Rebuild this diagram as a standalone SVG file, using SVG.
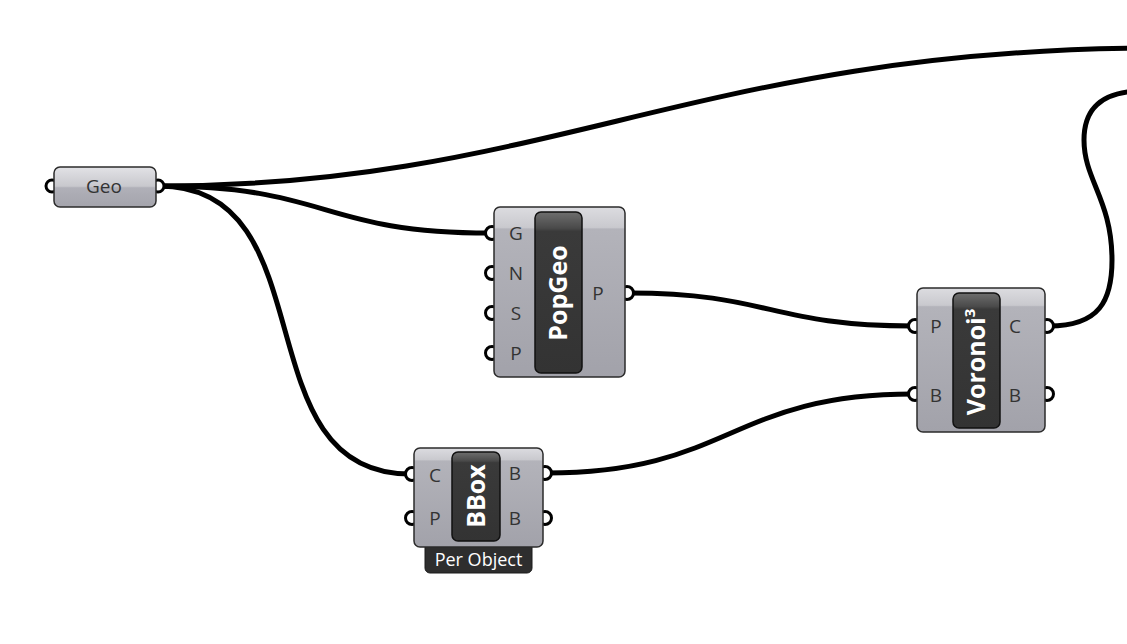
<svg xmlns="http://www.w3.org/2000/svg" width="1127" height="644" viewBox="0 0 1127 644">
  <defs>
    <linearGradient id="bodyGrad" x1="0" y1="0" x2="0" y2="1">
      <stop offset="0" stop-color="#dcdce0"/>
      <stop offset="0.12" stop-color="#c9c9ce"/>
      <stop offset="0.13" stop-color="#b3b3ba"/>
      <stop offset="1" stop-color="#a2a2aa"/>
    </linearGradient>
    <linearGradient id="geoGrad" x1="0" y1="0" x2="0" y2="1">
      <stop offset="0" stop-color="#e2e2e6"/>
      <stop offset="0.48" stop-color="#c8c8cd"/>
      <stop offset="0.52" stop-color="#b0b0b8"/>
      <stop offset="1" stop-color="#a4a4ac"/>
    </linearGradient>
    <linearGradient id="capGrad" x1="0" y1="0" x2="0" y2="1">
      <stop offset="0" stop-color="#6e6e6e"/>
      <stop offset="0.1" stop-color="#4a4a4a"/>
      <stop offset="0.12" stop-color="#3a3a3a"/>
      <stop offset="1" stop-color="#333333"/>
    </linearGradient>
  </defs>
  <style>
    .wire { fill: none; stroke: #000; stroke-width: 5; stroke-linecap: round; }
    .body { stroke: #2b2b2b; stroke-width: 1.5; }
    .cap { fill: url(#capGrad); stroke: #111; stroke-width: 1.5; }
    .grip { fill: #fff; stroke: #000; stroke-width: 3; }
    .lbl { font-family: "Open Sans", "Noto Sans", sans-serif; font-size: 19px; fill: #333; text-anchor: middle; }
    .title { font-family: "Open Sans", "Noto Sans", sans-serif; font-weight: bold; font-size: 25px; fill: #fff; text-anchor: middle; }
    .tab { fill: #2e2e2e; stroke: #1a1a1a; stroke-width: 1; }
    .tabtxt { font-family: "Open Sans", "Noto Sans", sans-serif; font-size: 18px; fill: #fff; text-anchor: middle; }
  </style>
  <rect width="1127" height="644" fill="#fff"/>

  <g id="connectors">
    <path class="wire" d="M159,186 C550,186 700,48 1160,48"/>
    <path class="wire" d="M159,186 C330,186 320,233 490,233"/>
    <path class="wire" d="M159,186 C330,186 240,474 410,474"/>
    <path class="wire" d="M629,293 C770,293 770,326 913,326"/>
    <path class="wire" d="M547,473 C730,473 730,394 913,394"/>
    <path class="wire" d="M1049,326 C1100,326 1112,300 1112,260 C1112,200 1084,180 1084,140 C1084,110 1100,92 1140,91"/>
  </g>

  <g id="geo">
    <circle class="grip" cx="52" cy="186" r="6"/>
    <circle class="grip" cx="158" cy="186" r="6"/>
    <rect class="body" x="54" y="167" width="102" height="40" rx="6" fill="url(#geoGrad)"/>
    <text class="lbl" x="104" y="193">Geo</text>
  </g>

  <g id="popgeo">
    <circle class="grip" cx="492" cy="233" r="6.5"/>
    <circle class="grip" cx="492" cy="273" r="6.5"/>
    <circle class="grip" cx="492" cy="313" r="6.5"/>
    <circle class="grip" cx="492" cy="353" r="6.5"/>
    <circle class="grip" cx="627" cy="293" r="6.5"/>
    <rect class="body" x="494" y="207" width="131" height="170" rx="6" fill="url(#bodyGrad)"/>
    <rect class="cap" x="535" y="212" width="47" height="161" rx="6"/>
    <text class="lbl" x="516" y="240">G</text>
    <text class="lbl" x="516" y="280">N</text>
    <text class="lbl" x="516" y="320">S</text>
    <text class="lbl" x="516" y="360">P</text>
    <text class="lbl" x="598" y="300">P</text>
    <text class="title" transform="translate(567,293) rotate(-90)">PopGeo</text>
  </g>

  <g id="voronoi">
    <circle class="grip" cx="915" cy="326" r="6.5"/>
    <circle class="grip" cx="915" cy="394" r="6.5"/>
    <circle class="grip" cx="1047" cy="326" r="6.5"/>
    <circle class="grip" cx="1047" cy="394" r="6.5"/>
    <rect class="body" x="917" y="288" width="128" height="144" rx="6" fill="url(#bodyGrad)"/>
    <rect class="cap" x="953" y="293" width="47" height="135" rx="6"/>
    <text class="lbl" x="936" y="333">P</text>
    <text class="lbl" x="936" y="402">B</text>
    <text class="lbl" x="1015" y="333">C</text>
    <text class="lbl" x="1015" y="402">B</text>
    <text class="title" transform="translate(985,362) rotate(-90)">Voronoi<tspan font-size="15" dy="-10">3</tspan></text>
  </g>

  <g id="bbox">
    <rect class="tab" x="425" y="540" width="107" height="33" rx="5"/>
    <text class="tabtxt" x="478.5" y="566">Per Object</text>
    <circle class="grip" cx="412" cy="474" r="6.5"/>
    <circle class="grip" cx="412" cy="518" r="6.5"/>
    <circle class="grip" cx="545" cy="473" r="6.5"/>
    <circle class="grip" cx="545" cy="518" r="6.5"/>
    <rect class="body" x="414" y="448" width="129" height="99" rx="6" fill="url(#bodyGrad)"/>
    <rect class="cap" x="452" y="452" width="48" height="89" rx="6"/>
    <text class="lbl" x="435" y="482">C</text>
    <text class="lbl" x="435" y="525">P</text>
    <text class="lbl" x="515" y="480">B</text>
    <text class="lbl" x="515" y="525">B</text>
    <text class="title" transform="translate(485,496) rotate(-90)">BBox</text>
  </g>
</svg>
